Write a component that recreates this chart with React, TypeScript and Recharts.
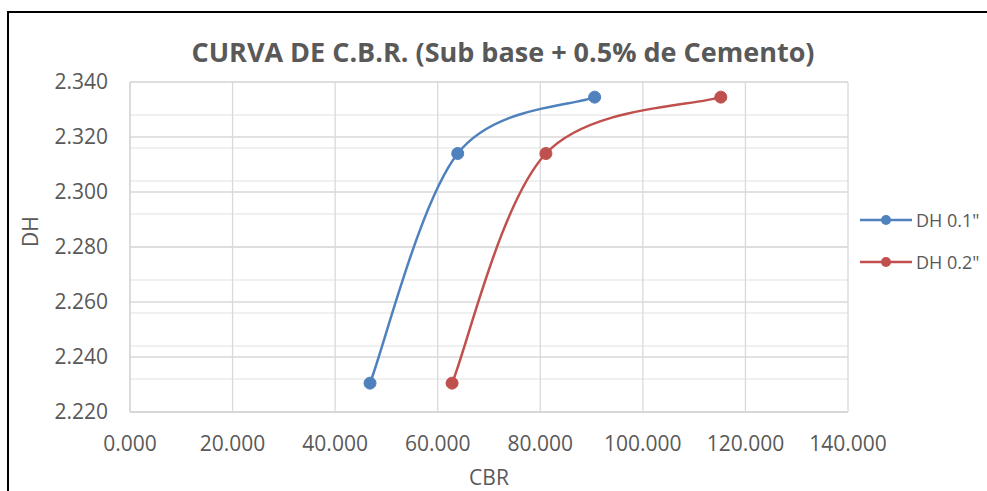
import { CartesianGrid, Line, LineChart, XAxis, YAxis } from 'recharts';

// CBR vs dry density, two penetration readings
const cbrAt01 = [46.8, 63.9, 90.6];
const cbrAt02 = [62.8, 81.1, 115.2];
const dryDensity = [2.2305, 2.314, 2.3345];

const xTicks = [0, 20, 40, 60, 80, 100, 120, 140];
const yTicks = [2.22, 2.24, 2.26, 2.28, 2.3, 2.32, 2.34];
const yMinorTicks = Array.from({ length: 31 }, (_, i) => 2.22 + i * 0.004);

const seriesNames = ['DH 0.1"', 'DH 0.2"'];
const BLUE = '#4F81BD';
const RED = '#C0504D';
const TEXT = '#595959';
const FONT = '"Open Sans", "Noto Sans", sans-serif';

const series01 = cbrAt01.map((x, i) => ({ x, y: dryDensity[i] }));
const series02 = cbrAt02.map((x, i) => ({ x, y: dryDensity[i] }));

// Spreadsheet-style smoothed line: cubic Bezier through every point,
// control points at 1/6 of the neighbour chord, end points repeated.
function smoothCurve(context: any) {
  let pts: number[][] = [];
  return {
    areaStart() {},
    areaEnd() {},
    lineStart() {
      pts = [];
    },
    point(x: number, y: number) {
      pts.push([+x, +y]);
    },
    lineEnd() {
      const n = pts.length;
      if (!n) return;
      context.moveTo(pts[0][0], pts[0][1]);
      for (let i = 0; i < n - 1; i++) {
        const p0 = pts[Math.max(i - 1, 0)];
        const p1 = pts[i];
        const p2 = pts[i + 1];
        const p3 = pts[Math.min(i + 2, n - 1)];
        context.bezierCurveTo(
          p1[0] + (p2[0] - p0[0]) / 6,
          p1[1] + (p2[1] - p0[1]) / 6,
          p2[0] - (p3[0] - p1[0]) / 6,
          p2[1] - (p3[1] - p1[1]) / 6,
          p2[0],
          p2[1],
        );
      }
    },
  };
}

function LegendBox() {
  const rows = [
    { name: seriesNames[0], color: BLUE },
    { name: seriesNames[1], color: RED },
  ];
  return (
    <div style={{ position: 'absolute', left: 858, top: 199 }}>
      {rows.map((r) => (
        <div key={r.name} style={{ display: 'flex', alignItems: 'center', height: 42 }}>
          <svg width={56} height={14}>
            <line x1={2} y1={7} x2={54} y2={7} stroke={r.color} strokeWidth={2.5} />
            <circle cx={28} cy={7} r={5} fill={r.color} />
          </svg>
          <span style={{ fontFamily: FONT, fontSize: 18, color: TEXT, marginLeft: 2 }}>{r.name}</span>
        </div>
      ))}
    </div>
  );
}

export default function App() {
  return (
    <div style={{ position: 'fixed', left: 0, top: 0, width: 987, height: 491, overflow: 'hidden', background: '#fff' }}>
      <div style={{ position: 'absolute', left: 7, top: 11, width: 1000, height: 500, border: '2px solid #000' }} />
      <LineChart
        width={987}
        height={491}
        margin={{ top: 82, right: 139, bottom: 49, left: 0 }}
        style={{ position: 'absolute', left: 0, top: 0 }}
      >
        <CartesianGrid horizontalValues={yMinorTicks} vertical={false} stroke="#EBEBEB" strokeWidth={1.5} />
        <CartesianGrid horizontalValues={yTicks} verticalValues={xTicks} stroke="#D9D9D9" strokeWidth={1.3} />
        <XAxis
          type="number"
          dataKey="x"
          domain={[0, 140]}
          ticks={xTicks}
          tickFormatter={(v: number) => v.toFixed(3)}
          allowDataOverflow
          tickLine={false}
          tickSize={0}
          tickMargin={24}
          stroke="#D0D0D0"
          tick={{ fill: TEXT, fontSize: 21, fontFamily: FONT }}
          label={{ value: 'CBR', position: 'insideBottom', offset: -43, fill: TEXT, fontSize: 21, fontFamily: FONT }}
        />
        <YAxis
          type="number"
          dataKey="y"
          domain={[2.22, 2.34]}
          ticks={yTicks}
          tickFormatter={(v: number) => v.toFixed(3)}
          allowDataOverflow
          width={130}
          tickLine={false}
          tickSize={0}
          tickMargin={22}
          stroke="#D0D0D0"
          tick={{ fill: TEXT, fontSize: 21, fontFamily: FONT }}
          label={{ value: 'DH', angle: -90, position: 'insideLeft', offset: 31, fill: TEXT, fontSize: 21, fontFamily: FONT }}
        />
        <Line
          data={series01}
          dataKey="y"
          name={seriesNames[0]}
          type={smoothCurve as any}
          stroke={BLUE}
          strokeWidth={2.5}
          dot={{ r: 6, fill: BLUE, stroke: BLUE, strokeWidth: 1 }}
          activeDot={false}
          isAnimationActive={false}
        />
        <Line
          data={series02}
          dataKey="y"
          name={seriesNames[1]}
          type={smoothCurve as any}
          stroke={RED}
          strokeWidth={2.5}
          dot={{ r: 6, fill: RED, stroke: RED, strokeWidth: 1 }}
          activeDot={false}
          isAnimationActive={false}
        />
      </LineChart>
      <div
        style={{
          position: 'absolute',
          left: 0,
          width: 1006,
          top: 33,
          textAlign: 'center',
          fontFamily: FONT,
          fontWeight: 700,
          fontSize: 27,
          color: TEXT,
        }}
      >
        CURVA DE C.B.R. (Sub base + 0.5% de Cemento)
      </div>
      <LegendBox />
    </div>
  );
}
